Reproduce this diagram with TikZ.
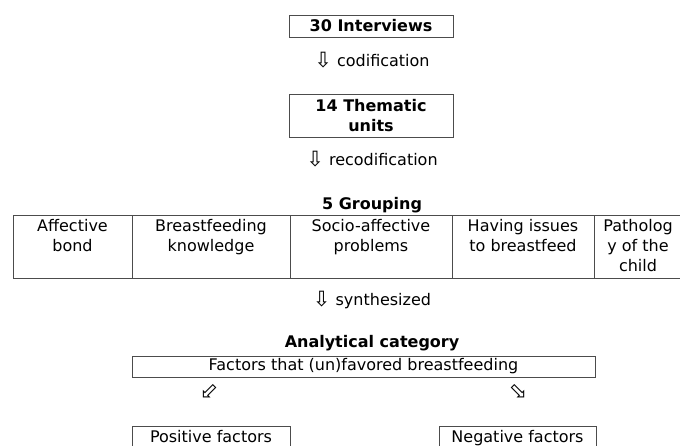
\documentclass[tikz,border=0pt]{standalone}
\usepackage{fontspec}
\setmainfont{DejaVu Sans}
\newcommand{\bigarrow}[1]{{\fontsize{21}{20}\selectfont\raisebox{-1pt}{#1}}}
\begin{document}
\begin{tikzpicture}[x=1pt,y=-1pt,
  every node/.style={font=\fontsize{16}{20}\selectfont, inner sep=0pt},
  boldtext/.style={font=\fontsize{16}{20}\selectfont\bfseries},
  box/.style={draw=black!70, line width=0.8pt, rectangle, minimum height=22pt},
  endbox/.style={box, minimum height=24pt, text height=11.5pt, text depth=3.5pt},
  cell/.style={draw=black!70, line width=0.8pt, rectangle, minimum height=63pt},
  celltext/.style={anchor=north, align=center}]
\useasboundingbox (0,0) rectangle (680,446);
\fill[white] (0,0) rectangle (680,446);
\clip (0,0) rectangle (680,446);

\node[box, boldtext, minimum width=164pt] (interviews) at (371,26) {30 Interviews};
\node (cod) at (372,60) {\bigarrow{⇩} codification};
\node[box, boldtext, minimum width=164pt, minimum height=43pt, align=center] (thematic) at (371,115.5) {14 Thematic\\units};
\node (recod) at (372,159) {\bigarrow{⇩} recodification};
\node[boldtext] (grouping) at (372,205) {5 Grouping};

\node[cell, minimum width=119pt] (c1) at (72.5,246.5) {};
\node[cell, minimum width=158pt] (c2) at (211,246.5) {};
\node[cell, minimum width=162pt] (c3) at (371,246.5) {};
\node[cell, minimum width=142pt] (c4) at (523,246.5) {};
\node[cell, minimum width=88pt] (c5) at (638,246.5) {};
\node[celltext] (t1) at ([yshift=-5pt]c1.north) {Affective\\bond};
\node[celltext] (t2) at ([yshift=-5pt]c2.north) {Breastfeeding\\knowledge};
\node[celltext] (t3) at ([yshift=-5pt]c3.north) {Socio-affective\\problems};
\node[celltext] (t4) at ([yshift=-5pt]c4.north) {Having issues\\to breastfeed};
\node[celltext] (t5) at ([yshift=-5pt]c5.north) {Patholog\\y of the\\child};

\node (synth) at (372,300) {\bigarrow{⇩} synthesized};
\node[boldtext] (analytical) at (372,343) {Analytical category};
\node[box, minimum width=463pt, minimum height=21pt] (factors) at (363.5,366.5) {Factors that (un)favored breastfeeding};
\node[font=\fontsize{22}{22}\selectfont] (arrl) at (209,391) {⬃};
\node[font=\fontsize{22}{22}\selectfont] (arrr) at (518,391) {⬂};
\node[endbox, minimum width=158pt] (positive) at (211,438) {Positive factors};
\node[endbox, minimum width=157pt] (negative) at (517.5,438) {Negative factors};
\end{tikzpicture}
\end{document}
